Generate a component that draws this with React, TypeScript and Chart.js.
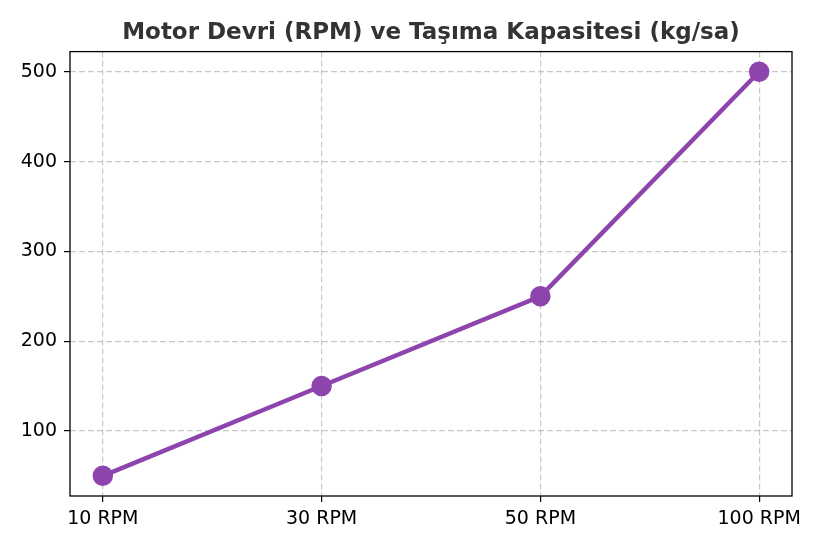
import { Chart, registerables } from "chart.js";
import type { ChartConfiguration, Plugin } from "chart.js";
import { useRef, useEffect } from "react";

Chart.register(...registerables);

// Data
const speeds = ["10 RPM", "30 RPM", "50 RPM", "100 RPM"];
const capacity = [50, 150, 250, 500];
const yTicks = [100, 200, 300, 400, 500];

const FONT = "'DejaVu Sans', sans-serif";

// draws the black frame around the plot area (matplotlib-like spines)
const frame: Plugin<"line"> = {
  id: "frame",
  afterDraw(chart) {
    const { ctx, chartArea } = chart;
    ctx.save();
    ctx.strokeStyle = "#000";
    ctx.lineWidth = 1.3;
    ctx.strokeRect(chartArea.left, chartArea.top, chartArea.right - chartArea.left, chartArea.bottom - chartArea.top);
    ctx.restore();
  },
};

export default function App() {
  const chartRef = useRef<HTMLCanvasElement | null>(null);

  useEffect(() => {
    document.body.style.margin = "0";
    const config: ChartConfiguration<"line", { x: number; y: number }[], string> = {
      type: "line",
      data: {
        datasets: [
          {
            label: "Taşıma Kapasitesi",
            data: capacity.map((v, i) => ({ x: i, y: v })),
            borderColor: "#8e44ad",
            backgroundColor: "#8e44ad",
            pointBackgroundColor: "#8e44ad",
            pointBorderColor: "#8e44ad",
            borderWidth: 4.5,
            pointRadius: 8,
            pointHoverRadius: 8,
            tension: 0,
          },
        ],
      },
      options: {
        animation: false,
        responsive: false,
        layout: { padding: { left: 0, right: 33, top: 0, bottom: 0 } },
        plugins: {
          legend: { display: false },
          tooltip: { enabled: false },
          title: {
            display: true,
            text: "Motor Devri (RPM) ve Taşıma Kapasitesi (kg/sa)",
            color: "#333333",
            fullSize: false,
            font: { family: FONT, size: 23, weight: "bold", lineHeight: 1.2 },
            padding: { top: 19, bottom: 5 },
          },
        },
        scales: {
          x: {
            type: "linear",
            min: -0.15,
            max: 3.15,
            afterBuildTicks: (scale) => {
              scale.ticks = speeds.map((_, i) => ({ value: i }));
            },
            afterFit: (scale) => {
              scale.height = 54;
            },
            ticks: {
              callback: (v) => speeds[Number(v)] ?? "",
              color: "#000",
              font: { family: FONT, size: 19 },
              padding: 6,
              maxRotation: 0,
              autoSkip: false,
            },
            grid: {
              color: "rgba(176,176,176,0.7)",
              lineWidth: 1.2,
              tickColor: "#000",
              tickLength: 6,
              tickBorderDash: [],
            },
            border: { display: false, dash: [6, 3] },
          },
          y: {
            type: "linear",
            min: 27.5,
            max: 522.5,
            afterBuildTicks: (scale) => {
              scale.ticks = yTicks.map((v) => ({ value: v }));
            },
            afterFit: (scale) => {
              scale.width = 70;
            },
            ticks: {
              color: "#000",
              font: { family: FONT, size: 19 },
              padding: 7,
            },
            grid: {
              color: "rgba(176,176,176,0.7)",
              lineWidth: 1.2,
              tickColor: "#000",
              tickLength: 6,
              tickBorderDash: [],
            },
            border: { display: false, dash: [6, 3] },
          },
        },
      },
      plugins: [frame],
    };

    if (chartRef.current) {
      const chart = new Chart(chartRef.current, config);
      return () => {
        chart.destroy();
      };
    }
    return;
  }, []);

  return (
    <div style={{ width: 825, height: 550, background: "#fff" }}>
      <canvas ref={chartRef} width={825} height={550}></canvas>
    </div>
  );
}
